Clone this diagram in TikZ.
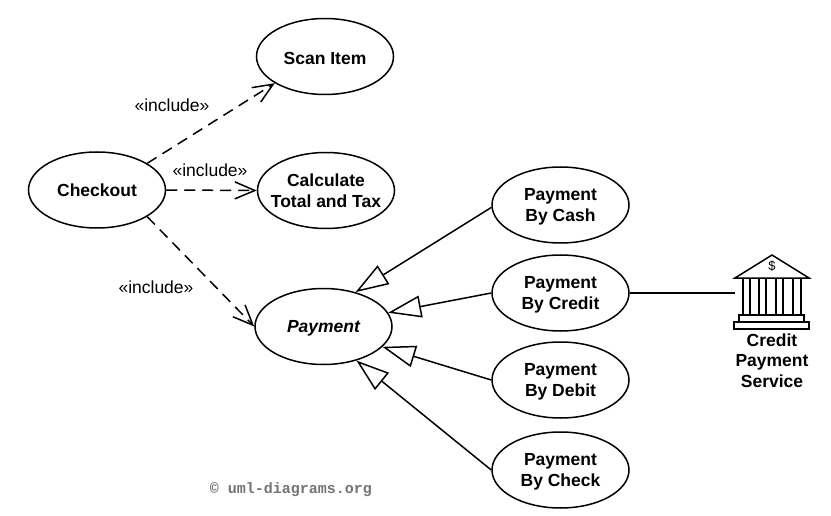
\documentclass[tikz,border=0pt]{standalone}
\usepackage{fontspec}
\setmainfont{Liberation Sans}
\newfontfamily\markfont{Liberation Mono}
\usetikzlibrary{shapes.geometric, arrows.meta}

\newcommand{\lowtext}{\rule{0pt}{15.5pt}}

\tikzset{
	usecase/.style={draw, ellipse, line width=1.5pt, inner sep=-14pt, minimum width=137pt, minimum height=76pt, align=center, font=\fontsize{17.5}{21}\selectfont\bfseries},
	stereo/.style={font=\fontsize{17.5}{21}\selectfont},
	incl/.style={dashed, dash pattern=on 11pt off 7pt, line width=1.5pt, -{Straight Barb[length=20pt, width=17pt, line width=1.5pt]}},
	gen/.style={line width=1.5pt, -{Triangle[open, fill=white, length=33pt, width=22pt, line width=1.5pt]}},
	assoc/.style={line width=1.5pt},
	bankline/.style={line width=1.5pt}
}

\begin{document}
\begin{tikzpicture}[x=1pt, y=-1pt]
\useasboundingbox (0,0) rectangle (831,516);

\path (97,190) node[usecase] (checkout) {Checkout}
		(325,56.5) node[usecase] (scan) {\lowtext Scan Item}
		(326,190.5) node[usecase] (calc) {Calculate\\Total and Tax}
		(323.5,326.5) node[usecase] (pay) {\itshape\lowtext Payment}
		(560.5,205) node[usecase] (cash) {\lowtext Payment\\By Cash}
		(560.5,293) node[usecase] (credit) {\lowtext Payment\\By Credit}
		(560.5,380) node[usecase] (debit) {\lowtext Payment\\By Debit}
		(560.5,470) node[usecase] (check) {\lowtext Payment\\By Check}
		(172,105) node[stereo] (incla) {«include»}
		(210,170) node[stereo] (inclb) {«include»}
		(156,287) node[stereo] (inclc) {«include»}
		(772,293) node[minimum width=74pt, minimum height=74pt, inner sep=0pt] (bank) {}
		(772,266) node[font=\fontsize{13}{13}\selectfont] (dollar) {\$}
		(772,360.5) node[align=center, font=\fontsize{17.5}{20.5}\selectfont\bfseries] (service) {Credit\\Payment\\Service}
		(291,490) node[font=\fontsize{15}{15}\markfont\bfseries, text=black!55] (mark) {© uml-diagrams.org}
		;

\draw[incl] (node cs:name=checkout,angle=28) -- (node cs:name=scan,angle=208);
\draw[incl] (node cs:name=checkout,angle=0) -- (node cs:name=calc,angle=180);
\draw[incl] (node cs:name=checkout,angle=-28) -- (node cs:name=pay,angle=180);

\draw[gen] (node cs:name=cash,angle=182) -- (node cs:name=pay,angle=47);
\draw[gen] (node cs:name=credit,angle=180) -- (node cs:name=pay,angle=12.5);
\draw[gen] (node cs:name=debit,angle=180) -- (node cs:name=pay,angle=-19);
\draw[gen] (node cs:name=check,angle=180) -- (node cs:name=pay,angle=-46);

\draw[assoc] (node cs:name=credit,angle=0) -- (node cs:name=bank,angle=180);

% bank
\draw[bankline] (735,278) -- (772,255) -- (809,278) -- cycle;
\foreach \x in {743,750,759,766,776,783,793,801}
	\draw[bankline] (\x,278) -- (\x,315);
\draw[bankline] (739,315) rectangle (804,322);
\draw[bankline] (734,322) rectangle (809,329);
\end{tikzpicture}
\end{document}
